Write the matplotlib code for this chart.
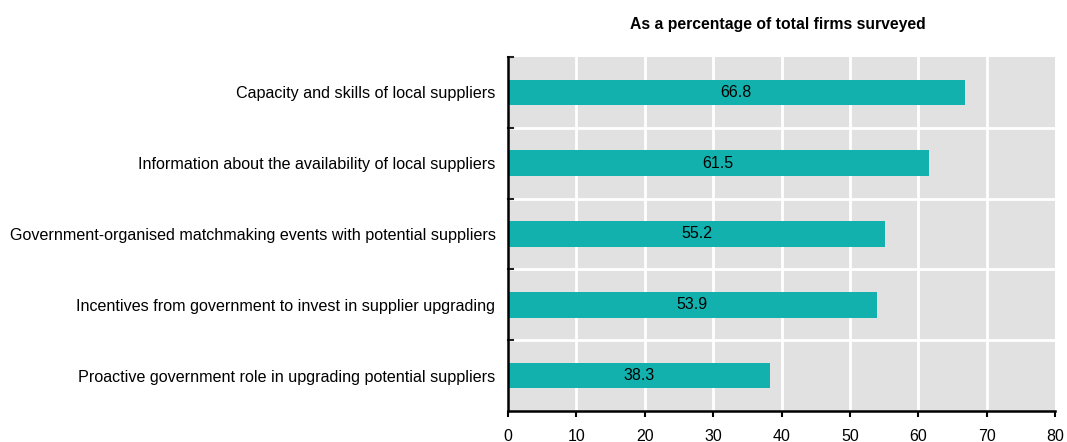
import matplotlib
matplotlib.use("Agg")
import matplotlib.pyplot as plt

categories = [
    "Capacity and skills of local suppliers",
    "Information about the availability of local suppliers",
    "Government-organised matchmaking events with potential suppliers",
    "Incentives from government to invest in supplier upgrading",
    "Proactive government role in upgrading potential suppliers",
]
values = [66.8, 61.5, 55.2, 53.9, 38.3]
xticks = [0, 10, 20, 30, 40, 50, 60, 70, 80]
subtitle = "As a percentage of total firms surveyed"

plt.rcParams["font.family"] = ["Liberation Sans", "DejaVu Sans"]

fig = plt.figure(figsize=(10.67, 4.42), dpi=100)
ax = fig.add_axes([508/1067, 31/442, 547/1067, 354/442])
ax.set_facecolor("#e1e1e1")

n = len(categories)
ypos = list(range(n))[::-1]
ax.barh(ypos, values, height=0.36, color="#13b1ad", zorder=3)
for y, v in zip(ypos, values):
    ax.text(v / 2, y, f"{v:.1f}", ha="center", va="center", fontsize=11.5, color="black", zorder=4)

ax.set_xlim(0, 80)
ax.set_ylim(-0.5, n - 0.5)
ax.set_xticks(xticks)
ax.set_xticklabels([str(t) for t in xticks], fontsize=11.5)
ax.set_yticks(ypos)
ax.set_yticklabels(categories, fontsize=11.6)
ax.tick_params(axis="y", length=0, pad=9)
ax.tick_params(axis="x", length=4, width=1.5, color="black", pad=9)

# category boundaries: gridlines and inward ticks on left spine
bounds = [k + 0.5 for k in range(-1, n)]
for b in bounds[1:-1]:
    ax.axhline(b, color="white", lw=2, zorder=1)
for b in bounds[1:]:
    ax.plot([0, 0.8], [b, b], color="#222222", lw=1.5, zorder=5, clip_on=False)
for t in xticks[1:-1]:
    ax.axvline(t, color="white", lw=2, zorder=1)

for s in ["top", "right"]:
    ax.spines[s].set_visible(False)
ax.spines["left"].set_linewidth(1.8)
ax.spines["bottom"].set_linewidth(1.8)
ax.spines["left"].set_zorder(6)
ax.spines["bottom"].set_zorder(6)

fig.text(778/1067, 1 - 24/442, subtitle, ha="center", va="center", fontsize=11.3, fontweight="bold")

fig.savefig("out.png", dpi=100)
